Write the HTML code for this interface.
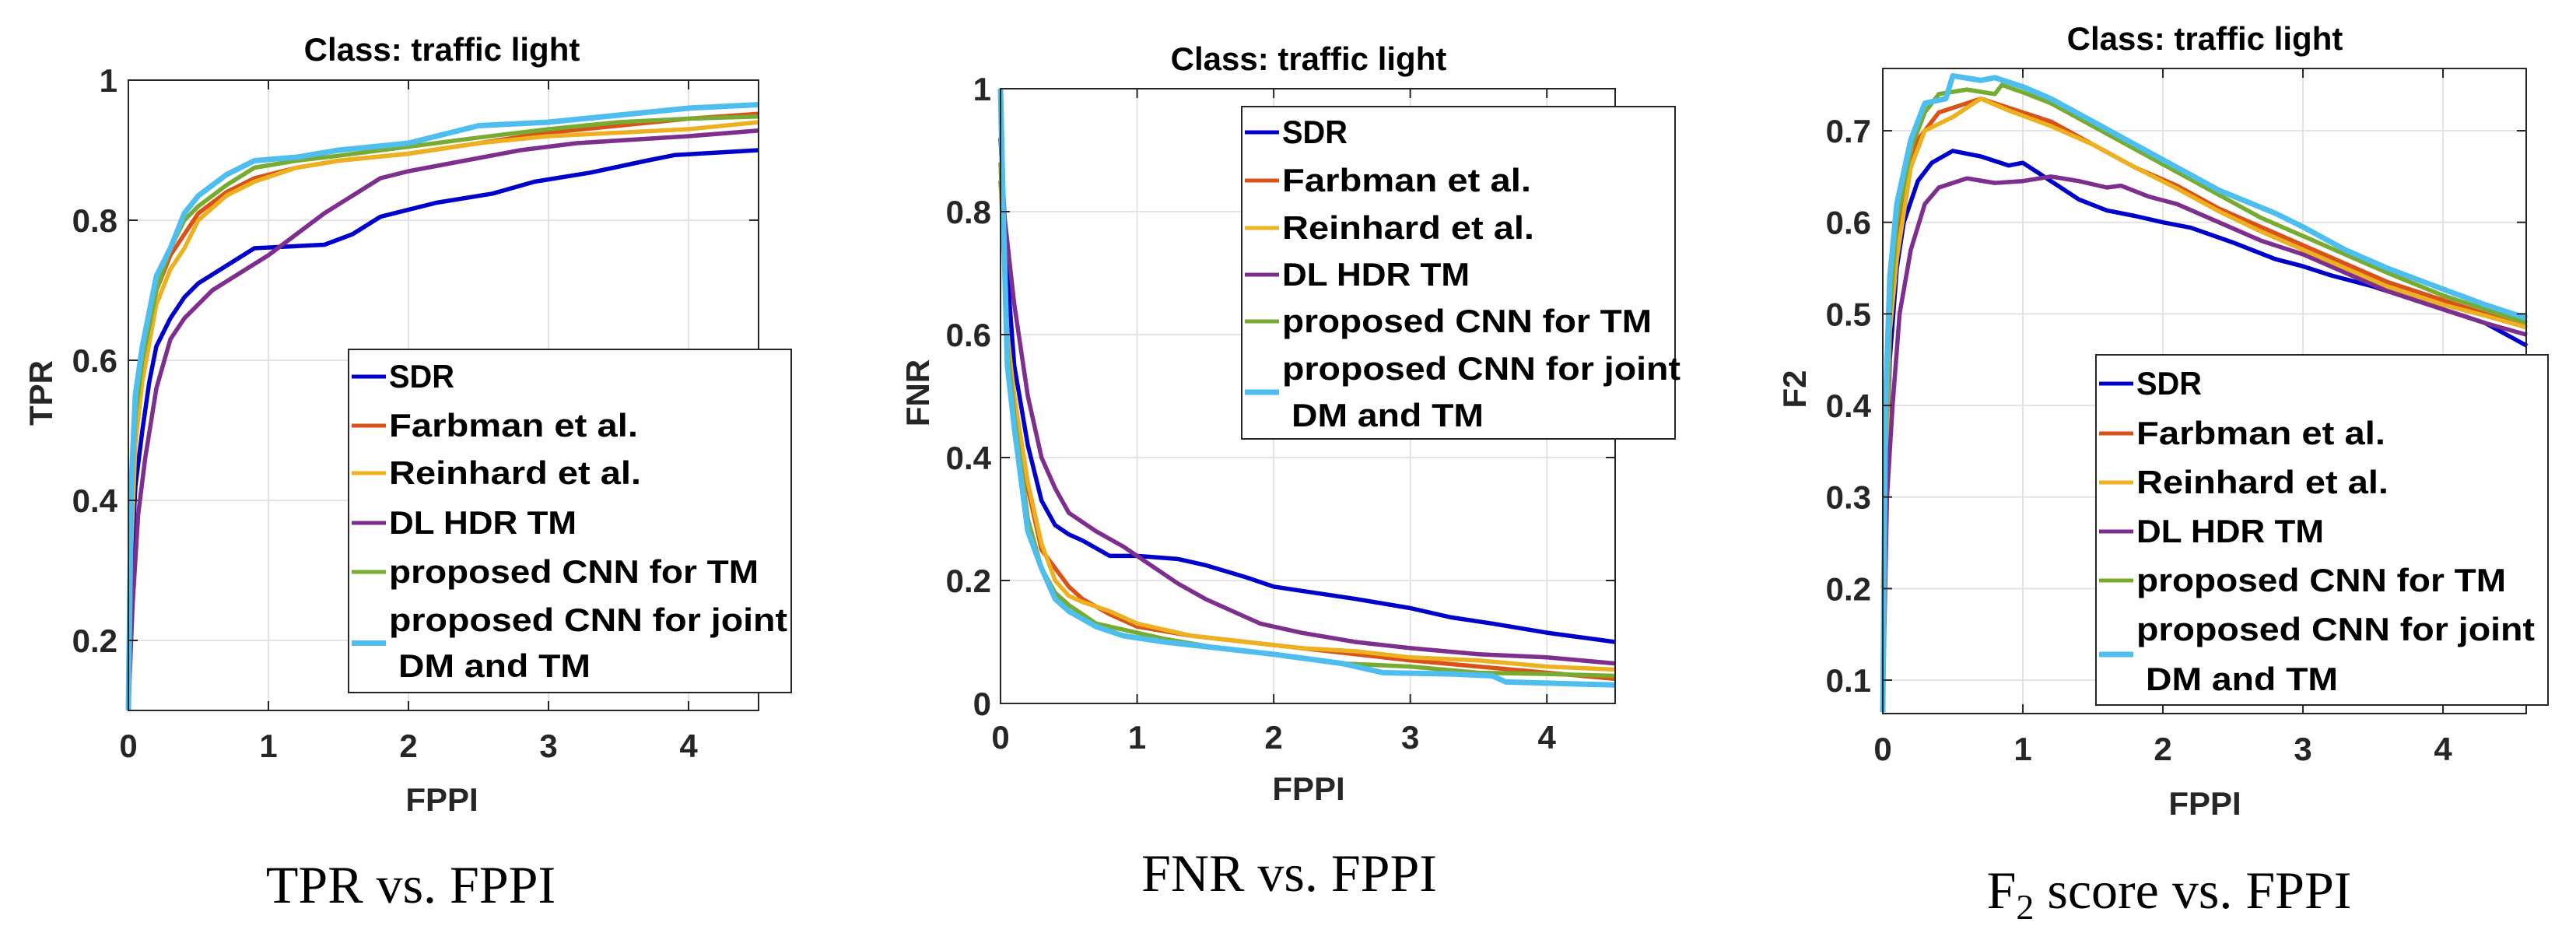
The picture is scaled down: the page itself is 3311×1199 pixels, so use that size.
<!DOCTYPE html>
<html><head><meta charset="utf-8"><style>
html,body{margin:0;padding:0;background:#fff;}
svg{display:block;}
text{font-family:"Liberation Sans",sans-serif;}
</style></head><body>
<svg id="fig" width="3311" height="1199" viewBox="0 0 3311 1199" xmlns="http://www.w3.org/2000/svg"></svg>
<script>
// ---- data ----
const seriesNames = ["SDR","Farbman et al.","Reinhard et al.","DL HDR TM","proposed CNN for TM","proposed CNN for joint"];
const seriesColors = ["#0000cc","#d95319","#edb120","#7e2f8e","#77ac30","#4dbeee"];
const xTicks = [0,1,2,3,4];
const tprTicks = [0.2,0.4,0.6,0.8,1];
const fnrTicks = [0,0.2,0.4,0.6,0.8,1];
const f2Ticks = [0.1,0.2,0.3,0.4,0.5,0.6,0.7];

const tprSDR = [[0,0.1],[0.02,0.3],[0.05,0.42],[0.1,0.5],[0.15,0.57],[0.2,0.62],[0.3,0.66],[0.4,0.69],[0.5,0.71],[0.7,0.735],[0.9,0.76],[1.4,0.765],[1.6,0.78],[1.8,0.805],[2.2,0.825],[2.6,0.838],[2.9,0.855],[3.3,0.868],[3.7,0.885],[3.9,0.893],[4.5,0.9]];
const tprFarbman = [[0,0.1],[0.02,0.35],[0.05,0.5],[0.1,0.6],[0.2,0.7],[0.3,0.75],[0.4,0.78],[0.5,0.81],[0.7,0.84],[0.9,0.86],[1.2,0.875],[1.5,0.885],[2,0.895],[2.5,0.91],[3,0.925],[3.5,0.935],[4,0.945],[4.5,0.952]];
const tprReinhard = [[0,0.15],[0.02,0.33],[0.05,0.48],[0.1,0.57],[0.2,0.68],[0.3,0.73],[0.4,0.76],[0.5,0.8],[0.7,0.835],[0.9,0.855],[1.2,0.875],[1.5,0.885],[2,0.895],[2.5,0.91],[3,0.92],[3.5,0.925],[4,0.93],[4.5,0.94]];
const tprDL = [[0,0.1],[0.03,0.25],[0.07,0.38],[0.12,0.46],[0.2,0.56],[0.3,0.63],[0.4,0.66],[0.6,0.7],[0.8,0.725],[1.0,0.75],[1.2,0.78],[1.4,0.81],[1.6,0.835],[1.8,0.86],[2.0,0.87],[2.4,0.885],[2.8,0.9],[3.2,0.91],[3.6,0.915],[4.0,0.92],[4.5,0.928]];
const tprCNN = [[0,0.1],[0.02,0.4],[0.05,0.52],[0.1,0.6],[0.2,0.7],[0.3,0.76],[0.4,0.8],[0.5,0.82],[0.7,0.85],[0.9,0.875],[1.2,0.885],[1.5,0.892],[2,0.905],[2.5,0.918],[3,0.93],[3.5,0.94],[4,0.945],[4.5,0.948]];
const tprJoint = [[0,0.1],[0.02,0.42],[0.05,0.55],[0.1,0.62],[0.2,0.72],[0.3,0.76],[0.4,0.81],[0.5,0.835],[0.7,0.865],[0.9,0.885],[1.2,0.89],[1.5,0.9],[2,0.91],[2.5,0.935],[3,0.94],[3.5,0.95],[4,0.96],[4.5,0.965]];

const fnrSDR = [[0,0.92],[0.05,0.7],[0.1,0.55],[0.2,0.42],[0.3,0.33],[0.4,0.29],[0.5,0.275],[0.6,0.265],[0.8,0.24],[1.0,0.24],[1.3,0.235],[1.5,0.225],[1.8,0.205],[2.0,0.19],[2.3,0.18],[2.6,0.17],[3.0,0.155],[3.3,0.14],[3.6,0.13],[4.0,0.115],[4.5,0.1]];
const fnrFarbman = [[0,0.88],[0.05,0.6],[0.1,0.5],[0.2,0.35],[0.3,0.25],[0.4,0.22],[0.5,0.19],[0.6,0.17],[0.8,0.145],[1.0,0.125],[1.4,0.11],[1.8,0.1],[2.2,0.09],[2.6,0.08],[3.0,0.07],[3.5,0.06],[4.0,0.05],[4.5,0.04]];
const fnrReinhard = [[0,0.85],[0.05,0.6],[0.1,0.5],[0.2,0.36],[0.3,0.26],[0.4,0.2],[0.5,0.175],[0.6,0.165],[0.8,0.15],[1.0,0.13],[1.4,0.11],[1.8,0.1],[2.2,0.09],[2.6,0.085],[3.0,0.075],[3.5,0.07],[4.0,0.06],[4.5,0.055]];
const fnrDL = [[0,0.85],[0.05,0.75],[0.1,0.65],[0.2,0.5],[0.3,0.4],[0.4,0.35],[0.5,0.31],[0.7,0.28],[0.9,0.255],[1.1,0.225],[1.3,0.195],[1.5,0.17],[1.7,0.15],[1.9,0.13],[2.2,0.115],[2.6,0.1],[3.0,0.09],[3.5,0.08],[4.0,0.075],[4.5,0.065]];
const fnrCNN = [[0,0.88],[0.05,0.58],[0.1,0.47],[0.2,0.3],[0.3,0.22],[0.4,0.18],[0.5,0.16],[0.7,0.13],[0.9,0.12],[1.2,0.105],[1.6,0.09],[2.0,0.08],[2.5,0.065],[3.0,0.06],[3.5,0.05],[4.0,0.048],[4.5,0.045]];
const fnrJoint = [[0,1.0],[0.02,0.8],[0.05,0.55],[0.1,0.45],[0.2,0.28],[0.3,0.22],[0.4,0.17],[0.5,0.15],[0.7,0.125],[0.9,0.11],[1.2,0.1],[1.6,0.09],[2.0,0.08],[2.5,0.065],[2.8,0.05],[3.3,0.048],[3.6,0.045],[3.7,0.035],[4.5,0.03]];

const f2SDR = [[0,0.07],[0.02,0.3],[0.05,0.45],[0.1,0.55],[0.15,0.6],[0.25,0.645],[0.35,0.665],[0.5,0.678],[0.7,0.672],[0.9,0.662],[1.0,0.665],[1.2,0.645],[1.4,0.625],[1.6,0.613],[1.8,0.607],[2.0,0.6],[2.2,0.594],[2.5,0.578],[2.8,0.56],[3.0,0.552],[3.2,0.542],[3.5,0.53],[3.8,0.515],[4.0,0.505],[4.3,0.49],[4.6,0.465]];
const f2Farbman = [[0,0.07],[0.02,0.35],[0.05,0.5],[0.1,0.58],[0.15,0.63],[0.25,0.69],[0.4,0.72],[0.6,0.73],[0.7,0.735],[0.9,0.725],[1.2,0.71],[1.5,0.685],[1.8,0.66],[2.1,0.64],[2.4,0.615],[2.7,0.595],[3.0,0.575],[3.3,0.555],[3.6,0.535],[4.0,0.515],[4.3,0.5],[4.6,0.485]];
const f2Reinhard = [[0,0.2],[0.02,0.3],[0.05,0.48],[0.1,0.56],[0.2,0.66],[0.3,0.7],[0.5,0.715],[0.7,0.735],[0.9,0.722],[1.2,0.705],[1.5,0.685],[1.8,0.66],[2.1,0.637],[2.4,0.612],[2.7,0.59],[3.0,0.57],[3.3,0.55],[3.6,0.53],[4.0,0.51],[4.3,0.498],[4.6,0.485]];
const f2DL = [[0,0.07],[0.03,0.3],[0.07,0.4],[0.12,0.5],[0.2,0.57],[0.3,0.62],[0.4,0.638],[0.6,0.648],[0.8,0.643],[1.0,0.645],[1.2,0.65],[1.4,0.645],[1.6,0.638],[1.7,0.64],[1.9,0.628],[2.1,0.62],[2.4,0.6],[2.7,0.58],[3.0,0.565],[3.3,0.545],[3.6,0.525],[4.0,0.505],[4.3,0.49],[4.6,0.477]];
const f2CNN = [[0,0.1],[0.02,0.35],[0.05,0.5],[0.1,0.6],[0.2,0.68],[0.3,0.72],[0.4,0.74],[0.6,0.745],[0.8,0.74],[0.85,0.75],[1.0,0.742],[1.2,0.73],[1.5,0.705],[1.8,0.68],[2.1,0.655],[2.4,0.63],[2.7,0.605],[3.0,0.585],[3.3,0.565],[3.6,0.545],[4.0,0.52],[4.3,0.505],[4.6,0.49]];
const f2Joint = [[0,0.065],[0.02,0.4],[0.05,0.54],[0.1,0.62],[0.2,0.69],[0.3,0.73],[0.45,0.735],[0.5,0.76],[0.7,0.755],[0.8,0.758],[1.0,0.748],[1.2,0.735],[1.5,0.71],[1.8,0.685],[2.1,0.66],[2.4,0.635],[2.8,0.61],[3.0,0.595],[3.3,0.57],[3.6,0.55],[4.0,0.527],[4.3,0.51],[4.6,0.495]];

// ---- drawing ----
const NS = "http://www.w3.org/2000/svg";
const svg = document.getElementById("fig");
function mk(tag, attrs, parent, txt){
  const e = document.createElementNS(NS, tag);
  for (const k in attrs) e.setAttribute(k, attrs[k]);
  if (txt !== undefined) e.textContent = txt;
  (parent||svg).appendChild(e);
  return e;
}
const legendWidths = [84,320,324,241,475,512];

function panel(p){
  const g = mk("g", {});
  
  
  const sx = v => p.L + (v - p.xmin) / (p.xmax - p.xmin) * (p.R - p.L);
  const sy = v => p.B - (v - p.ymin) / (p.ymax - p.ymin) * (p.B - p.T);
  xTicks.forEach(t => {
    const l = mk("line", {x1:sx(t), x2:sx(t), y1:p.T, y2:p.B, stroke:"#e3e3e3", "stroke-width":2}, g);
    
    
  });
  p.yTicks.forEach(t => {
    const l = mk("line", {x1:p.L, x2:p.R, y1:sy(t), y2:sy(t), stroke:"#e3e3e3", "stroke-width":2}, g);
    
    
  });
  const sets = p.data;
  sets.forEach((pts, i) => {
    const d = pts.map((q, j) => (j ? "L" : "M") + sx(q[0]).toFixed(1) + " " + sy(q[1]).toFixed(1)).join(" ");
    const path = mk("path", {d:d, fill:"none", stroke:seriesColors[i], "stroke-width": i===5 ? 7 : 5.5, "stroke-linejoin":"round"}, g);
    
    
  });
  const box = mk("rect", {x:p.L, y:p.T, width:p.R-p.L, height:p.B-p.T, fill:"none", stroke:"#262626", "stroke-width":2}, g);
  
  
  xTicks.forEach(t => {
    mk("line", {x1:sx(t), x2:sx(t), y1:p.B, y2:p.B-12, stroke:"#262626", "stroke-width":2}, g);
    mk("line", {x1:sx(t), x2:sx(t), y1:p.T, y2:p.T+12, stroke:"#262626", "stroke-width":2}, g);
    const tx = mk("text", {x:sx(t), y:p.xLabY, "text-anchor":"middle", "font-size":42, "font-weight":"bold", fill:"#262626"}, g, String(t));
    
    
  });
  p.yTicks.forEach(t => {
    mk("line", {x1:p.L, x2:p.L+12, y1:sy(t), y2:sy(t), stroke:"#262626", "stroke-width":2}, g);
    mk("line", {x1:p.R, x2:p.R-12, y1:sy(t), y2:sy(t), stroke:"#262626", "stroke-width":2}, g);
    const ty = mk("text", {x:p.yLabX, y:sy(t)+15, "text-anchor":"end", "font-size":42, "font-weight":"bold", fill:"#262626"}, g, String(t));
    
    
  });
  const title = mk("text", {x:p.titleX, y:p.titleY, "text-anchor":"middle", "font-size":42, "font-weight":"bold", fill:"#000"}, g, "Class: traffic light");
  
  
  const xl = mk("text", {x:p.xTitleX, y:p.xTitleY, "text-anchor":"middle", "font-size":42, "font-weight":"bold", fill:"#262626"}, g, "FPPI");
  
  
  const yl = mk("text", {x:0, y:0, "text-anchor":"middle", "font-size":42, "font-weight":"bold", fill:"#262626", transform:"translate("+p.yTitleX+","+p.yTitleY+") rotate(-90)"}, g, p.yTitle);
  
  
  const lg = mk("g", {}, g);
  
  
  mk("rect", {x:p.lgX, y:p.lgY, width:p.lgW, height:p.lgH, fill:"#fff", stroke:"#262626", "stroke-width":2}, lg);
  const rows = p.lgRows;
  seriesNames.forEach((n, i) => {
    const cy = i < 5 ? rows[i] : (rows[5] + rows[6]) / 2;
    const ln = mk("line", {x1:p.lgX+4, x2:p.lgX+48, y1:cy, y2:cy, stroke:seriesColors[i], "stroke-width":i===5?7:5}, lg);
    
    
    const t = mk("text", {x:p.lgX+52, y:rows[i]+14, "font-size":42, "font-weight":"bold", fill:"#000", textLength:legendWidths[i], lengthAdjust:"spacingAndGlyphs"}, lg, n);
    
    
  });
  const t2 = mk("text", {x:p.lgX+64, y:rows[6]+14, "font-size":42, "font-weight":"bold", fill:"#000", textLength:247, lengthAdjust:"spacingAndGlyphs"}, lg, "DM and TM");
  
  
  const cap = mk("text", {x:p.capX, y:p.capY, "text-anchor":"middle", "font-size":68, fill:"#000", style:"font-family:'Liberation Serif',serif"}, g);
  
  
  if (p.f2) {
    mk("tspan", {}, cap, "F");
    mk("tspan", {dy:14, "font-size":46}, cap, "2");
    mk("tspan", {dy:-14}, cap, " score vs. FPPI");
  } else cap.textContent = p.caption;
}

panel({name:"tpr-chart", L:165, R:975, T:103, B:913, xmin:0, xmax:4.5, ymin:0.1, ymax:1, yTicks:tprTicks,
  data:[tprSDR,tprFarbman,tprReinhard,tprDL,tprCNN,tprJoint], xLabY:973, yLabX:151, titleX:568, titleY:78,
  xTitleX:568, xTitleY:1042, yTitleX:67, yTitleY:505, yTitle:"TPR",
  lgX:448, lgY:449, lgW:569, lgH:441, lgRows:[484,547,608,672,735,797,856], capX:528, capY:1160, caption:"TPR vs. FPPI"});

panel({name:"fnr-chart", L:1286, R:2076, T:114, B:904, xmin:0, xmax:4.5, ymin:0, ymax:1, yTicks:fnrTicks,
  data:[fnrSDR,fnrFarbman,fnrReinhard,fnrDL,fnrCNN,fnrJoint], xLabY:962, yLabX:1274, titleX:1682, titleY:90,
  xTitleX:1682, xTitleY:1028, yTitleX:1194, yTitleY:505, yTitle:"FNR",
  lgX:1596, lgY:137, lgW:557, lgH:427, lgRows:[170,232,293,353,413,474,534], capX:1657, capY:1145, caption:"FNR vs. FPPI"});

panel({name:"f2-chart", L:2420, R:3247, T:88, B:917, xmin:0, xmax:4.594, ymin:0.0635, ymax:0.768, yTicks:f2Ticks,
  data:[f2SDR,f2Farbman,f2Reinhard,f2DL,f2CNN,f2Joint], xLabY:977, yLabX:2405, titleX:2834, titleY:64,
  xTitleX:2834, xTitleY:1047, yTitleX:2321, yTitleY:500, yTitle:"F2",
  lgX:2694, lgY:456, lgW:581, lgH:450, lgRows:[493,557,620,683,746,809,873], capX:2788, capY:1167, f2:true});
</script>
</body></html>
